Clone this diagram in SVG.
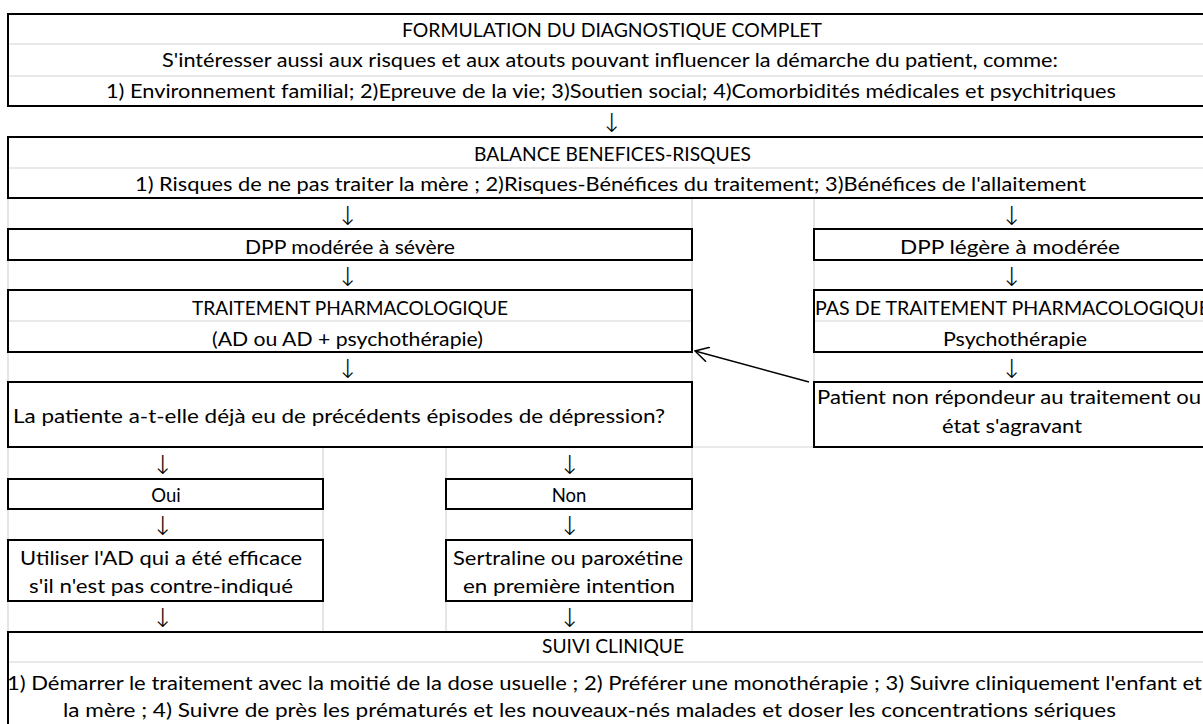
<svg xmlns="http://www.w3.org/2000/svg" width="1203" height="724" viewBox="0 0 1203 724">
<defs>
<style>
.box{fill:#fff;stroke:#000;stroke-width:2}
.grid{stroke:#d4d4d4;stroke-width:1.2;fill:none}
.t{font-family:Lato,"Liberation Sans",sans-serif;font-size:18.5px;fill:#000;text-anchor:middle}
.ts{font-family:Lato,"Liberation Sans",sans-serif;font-size:18.5px;fill:#000;text-anchor:start}
.arr{font-family:"DejaVu Sans",sans-serif;font-weight:200;font-size:26px;fill:#000;text-anchor:middle}
.link{stroke:#000;stroke-width:1.5;fill:none}
</style>
<marker id="open" viewBox="0 0 15 16" refX="14" refY="8" markerWidth="15" markerHeight="16" markerUnits="userSpaceOnUse" orient="auto">
<path d="M0.5,0.5 L14,8 L0.5,15.5" fill="none" stroke="#000" stroke-width="1.5"/>
</marker>
</defs>
<rect width="1203" height="724" fill="#fff"/>

<g id="gridlines">
<line class="grid" x1="692" y1="198" x2="692" y2="447"/>
<line class="grid" x1="814" y1="198" x2="814" y2="447"/>
<line class="grid" x1="8" y1="198" x2="8" y2="632"/>
<line class="grid" x1="692" y1="447" x2="814" y2="447"/>
<line class="grid" x1="323" y1="447" x2="323" y2="632"/>
<line class="grid" x1="446" y1="447" x2="446" y2="632"/>
<line class="grid" x1="692" y1="447" x2="692" y2="632"/>
</g>

<g id="n-formulation">
<rect class="box" x="8" y="14" width="1210" height="92"/>
<line class="grid" x1="9" y1="44" x2="1203" y2="44"/>
<line class="grid" x1="9" y1="76" x2="1203" y2="76"/>
<text class="t" x="612" y="37" textLength="420" lengthAdjust="spacingAndGlyphs">FORMULATION DU DIAGNOSTIQUE COMPLET</text>
<text class="t" x="610" y="67" textLength="896" lengthAdjust="spacingAndGlyphs">S'intéresser aussi aux risques et aux atouts pouvant influencer la démarche du patient, comme:</text>
<text class="t" x="611" y="98" textLength="1010" lengthAdjust="spacingAndGlyphs">1) Environnement familial; 2)Epreuve de la vie; 3)Soutien social; 4)Comorbidités médicales et psychitriques</text>
</g>

<g id="n-balance">
<rect class="box" x="8" y="137" width="1210" height="61"/>
<line class="grid" x1="9" y1="168" x2="1203" y2="168"/>
<text class="t" x="612.5" y="160.5" textLength="277" lengthAdjust="spacingAndGlyphs">BALANCE BENEFICES-RISQUES</text>
<text class="t" x="610.5" y="191" textLength="951" lengthAdjust="spacingAndGlyphs">1) Risques de ne pas traiter la mère ; 2)Risques-Bénéfices du traitement; 3)Bénéfices de l'allaitement</text>
</g>

<g id="n-dpp-severe">
<rect class="box" x="8" y="229" width="684" height="31"/>
<text class="t" x="350" y="254" textLength="210" lengthAdjust="spacingAndGlyphs">DPP modérée à sévère</text>
</g>

<g id="n-traitement">
<rect class="box" x="8" y="290" width="684" height="62"/>
<line class="grid" x1="9" y1="321" x2="691" y2="321"/>
<text class="t" x="350" y="315" textLength="316" lengthAdjust="spacingAndGlyphs">TRAITEMENT PHARMACOLOGIQUE</text>
<text class="t" x="347.5" y="345.5" textLength="271" lengthAdjust="spacingAndGlyphs">(AD ou AD + psychothérapie)</text>
</g>

<g id="n-question">
<rect class="box" x="8" y="382" width="684" height="65"/>
<text class="t" x="339" y="422.5" textLength="652" lengthAdjust="spacingAndGlyphs">La patiente a-t-elle déjà eu de précédents épisodes de dépression?</text>
</g>

<g id="n-dpp-legere">
<rect class="box" x="814" y="229" width="400" height="31"/>
<text class="t" x="1010" y="254" textLength="220" lengthAdjust="spacingAndGlyphs">DPP légère à modérée</text>
</g>

<g id="n-pas-traitement">
<rect class="box" x="814" y="290" width="400" height="62"/>
<line class="grid" x1="815" y1="321" x2="1203" y2="321"/>
<text class="ts" x="815" y="315" textLength="395" lengthAdjust="spacingAndGlyphs">PAS DE TRAITEMENT PHARMACOLOGIQUE</text>
<text class="t" x="1015" y="345.5" textLength="144" lengthAdjust="spacingAndGlyphs">Psychothérapie</text>
</g>

<g id="n-non-repondeur">
<rect class="box" x="814" y="382" width="400" height="65"/>
<text class="t" x="1009" y="404" textLength="384" lengthAdjust="spacingAndGlyphs">Patient non répondeur au traitement ou</text>
<text class="t" x="1012" y="433" textLength="140" lengthAdjust="spacingAndGlyphs">état s'agravant</text>
</g>

<g id="n-oui">
<rect class="box" x="8" y="479" width="315" height="30"/>
<text class="t" x="166" y="501.5">Oui</text>
</g>

<g id="n-non">
<rect class="box" x="446" y="479" width="246" height="30"/>
<text class="t" x="569" y="501.5">Non</text>
</g>

<g id="n-utiliser">
<rect class="box" x="8" y="540" width="315" height="61"/>
<text class="t" x="161" y="565" textLength="282" lengthAdjust="spacingAndGlyphs">Utiliser l'AD qui a été efficace</text>
<text class="t" x="161" y="593" textLength="264" lengthAdjust="spacingAndGlyphs">s'il n'est pas contre-indiqué</text>
</g>

<g id="n-sertraline">
<rect class="box" x="446" y="540" width="246" height="61"/>
<text class="t" x="568" y="565" textLength="230" lengthAdjust="spacingAndGlyphs">Sertraline ou paroxétine</text>
<text class="t" x="569" y="593" textLength="212" lengthAdjust="spacingAndGlyphs">en première intention</text>
</g>

<g id="n-suivi">
<rect class="box" x="8" y="632" width="1210" height="100"/>
<line class="grid" x1="9" y1="662" x2="1203" y2="662"/>
<text class="t" x="613" y="653" textLength="142" lengthAdjust="spacingAndGlyphs">SUIVI CLINIQUE</text>
<text class="t" x="604.5" y="690" textLength="1195" lengthAdjust="spacingAndGlyphs">1) Démarrer le traitement avec la moitié de la dose usuelle ; 2) Préférer une monothérapie ; 3) Suivre cliniquement l'enfant et</text>
<text class="t" x="589.5" y="717" textLength="1053" lengthAdjust="spacingAndGlyphs">la mère ; 4) Suivre de près les prématurés et les nouveaux-nés malades et doser les concentrations sériques</text>
</g>

<g id="connectors">
<text class="arr" x="612" y="132">↓</text>
<text class="arr" x="348" y="224.5">↓</text>
<text class="arr" x="1012" y="224.5">↓</text>
<text class="arr" x="348" y="285.5">↓</text>
<text class="arr" x="1012" y="285.5">↓</text>
<text class="arr" x="348" y="377.5">↓</text>
<text class="arr" x="1012" y="377.5">↓</text>
<text class="arr" x="163" y="474">↓</text>
<text class="arr" x="570" y="474">↓</text>
<text class="arr" x="163" y="535">↓</text>
<text class="arr" x="570" y="535">↓</text>
<text class="arr" x="163" y="627">↓</text>
<text class="arr" x="570" y="627">↓</text>
<line class="link" x1="809" y1="382" x2="695" y2="351" marker-end="url(#open)"/>
</g>
</svg>
